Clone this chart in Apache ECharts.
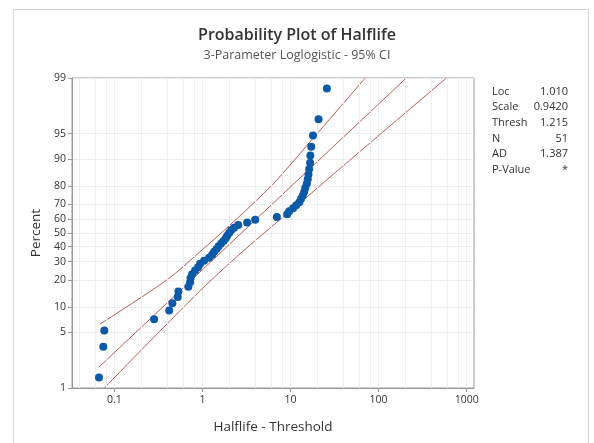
<!DOCTYPE html>
<html><head><meta charset="utf-8">
<script src="https://cdn.jsdelivr.net/npm/echarts@6/dist/echarts.min.js"></script>
<style>html,body{margin:0;padding:0;background:#fff}#c{width:594px;height:443px}</style>
</head><body><div id="c"></div>
<script>
// Halflife - Threshold (x) for each of the 51 observations
const halflifeMinusThresh = [0.067,0.075,0.077,0.283,0.42,0.456,0.525,0.534,0.693,0.725,
  0.734,0.764,0.826,0.894,0.942,1.045,1.19,1.29,1.36,1.45,
  1.53,1.63,1.74,1.84,1.91,2.01,2.12,2.29,2.55,3.22,
  3.97,7.0,9.17,9.66,10.7,11.6,12.6,13.2,13.8,14.3,
  14.7,15.3,15.7,16.0,16.3,16.7,16.8,17.2,18.0,20.8,25.9];
// Percent (plotting positions)
const percentRank = [1.36,3.31,5.25,7.20,9.14,11.09,13.04,14.98,16.93,18.87,
  20.82,22.76,24.71,26.65,28.60,30.54,32.49,34.44,36.38,38.33,
  40.27,42.22,44.16,46.11,48.05,50.00,51.95,53.89,55.84,57.78,
  59.73,61.67,63.62,65.56,67.51,69.46,71.40,73.35,75.29,77.24,
  79.18,81.13,83.07,85.02,86.96,88.91,90.86,92.80,94.75,96.69,98.64];
// fitted line and 95% CI bounds
const fitX = [0.0675, 206];
const fitP = [1.86, 99];
const upperX = [0.0688, 0.394, 0.942, 2.06, 4.15, 7.0, 21.8, 70.6];
const upperP = [6.3, 19.9, 36.5, 55.9, 72.7, 82.8, 95.5, 99.0];
const lowerX = [0.077, 0.942, 3.48, 14.05, 28.3, 588];
const lowerP = [1.0, 15.3, 41.2, 72.7, 84.1, 99.0];
// ticks
const yTickPercents = [1,5,10,20,30,40,50,60,70,80,90,95,99];
const xTickValues = [0.1,1,10,100,1000];
const xMinorGrid = [0.04,0.06,0.08,0.2,0.4,0.6,0.8,2,4,6,8,20,40,60,80,200,400,600,800];
const statLabels = ['Loc','Scale','Thresh','N','AD','P-Value'];
const statValues = ['1.010','0.9420','1.215','51','1.387','*'];

function logit(p){ return Math.log(p/(100-p)); }
const yTickLogit = yTickPercents.map(logit);
const FONT = '"Open Sans", "Noto Sans", sans-serif';

const chart = echarts.init(document.getElementById('c'), null, {renderer:'canvas'});
const gridCol = '#eeeeee';
const lineCol = '#b85c58';

const statGraphics = [];
statLabels.forEach((lab, i) => {
  const y = 93 + i * 15.7;
  statGraphics.push({type:'text', left:492, top:y-7, style:{text:lab, font:'11px ' + FONT, fill:'#333'}});
  statGraphics.push({type:'text', right:594-568, top:y-7, style:{text:statValues[i], font:'11px ' + FONT, fill:'#333', textAlign:'right'}});
});

chart.setOption({
  animation:false,
  backgroundColor:'#fff',
  textStyle:{fontFamily:FONT},
  title:[
    {text:'Probability Plot of Halflife', left:'center', top:22,
     textStyle:{fontSize:16, fontWeight:600, color:'#333', fontFamily:FONT}},
    {text:'3-Parameter Loglogistic - 95% CI', left:'center', top:44,
     textStyle:{fontSize:12.5, fontWeight:'normal', color:'#555', fontFamily:FONT}}
  ],
  graphic: [
    {type:'rect', shape:{x:13.5, y:9.5, width:575, height:460}, style:{fill:'none', stroke:'#d6d6d6', lineWidth:1}, z:-10, silent:true}
  ].concat(statGraphics),
  grid:{left:72, top:78, right:120, bottom:55, show:true, borderColor:'#999', borderWidth:1, containLabel:false},
  xAxis:{
    type:'log', logBase:10, min:0.0331, max:1210,
    name:'Halflife - Threshold', nameLocation:'middle', nameGap:32.5,
    nameTextStyle:{fontSize:13.5, color:'#333', fontFamily:FONT},
    axisLine:{show:true, onZero:false, lineStyle:{color:'#999'}},
    axisTick:{show:true, inside:false, length:4, lineStyle:{color:'#999'}, customValues:xTickValues},
    axisLabel:{fontSize:10.5, color:'#333', margin:7, customValues:xTickValues,
      formatter:(v)=>{ const k = xTickValues.findIndex(t=>Math.abs(Math.log10(t)-Math.log10(v))<1e-6); return k>=0 ? String(xTickValues[k]) : ''; }},
    splitLine:{show:true, lineStyle:{color:gridCol, width:1}},
    minorSplitLine:{show:false}
  },
  yAxis:{
    type:'value', min:logit(1), max:logit(99),
    name:'Percent', nameLocation:'middle', nameGap:16,
    nameTextStyle:{fontSize:13.5, color:'#333', fontFamily:FONT},
    axisLine:{show:true, onZero:false, lineStyle:{color:'#999'}},
    axisTick:{show:true, inside:false, length:4, lineStyle:{color:'#999'}, customValues:yTickLogit},
    axisLabel:{fontSize:10.5, color:'#333', margin:6, customValues:yTickLogit,
      formatter:(v)=>{ const k = yTickLogit.findIndex(t=>Math.abs(t-v)<1e-6); return k>=0 ? String(yTickPercents[k]) : ''; }},
    splitLine:{show:true, lineStyle:{color:gridCol, width:1}}
  },
  series:[
    {type:'line', data:[], silent:true, z:1,
     markLine:{silent:true, symbol:'none', label:{show:false},
       lineStyle:{color:gridCol, width:1, type:'solid'},
       data:xMinorGrid.map(v=>({xAxis:v}))}},
    {type:'line', name:'fit', data:fitX.map((x,i)=>[x, logit(fitP[i])]), showSymbol:false, symbol:'none',
     lineStyle:{color:lineCol, width:1}, z:3, silent:true},
    {type:'line', name:'upper', data:upperX.map((x,i)=>[x, logit(upperP[i])]), showSymbol:false, symbol:'none', smooth:0.3,
     lineStyle:{color:lineCol, width:1}, z:3, silent:true},
    {type:'line', name:'lower', data:lowerX.map((x,i)=>[x, logit(lowerP[i])]), showSymbol:false, symbol:'none', smooth:0.3,
     lineStyle:{color:lineCol, width:1}, z:3, silent:true},
    {type:'scatter', name:'Halflife', data:halflifeMinusThresh.map((x,i)=>[x, logit(percentRank[i])]),
     symbolSize:8, itemStyle:{color:'#0b5aa8', opacity:1}, z:5}
  ]
});
</script>
</body></html>
